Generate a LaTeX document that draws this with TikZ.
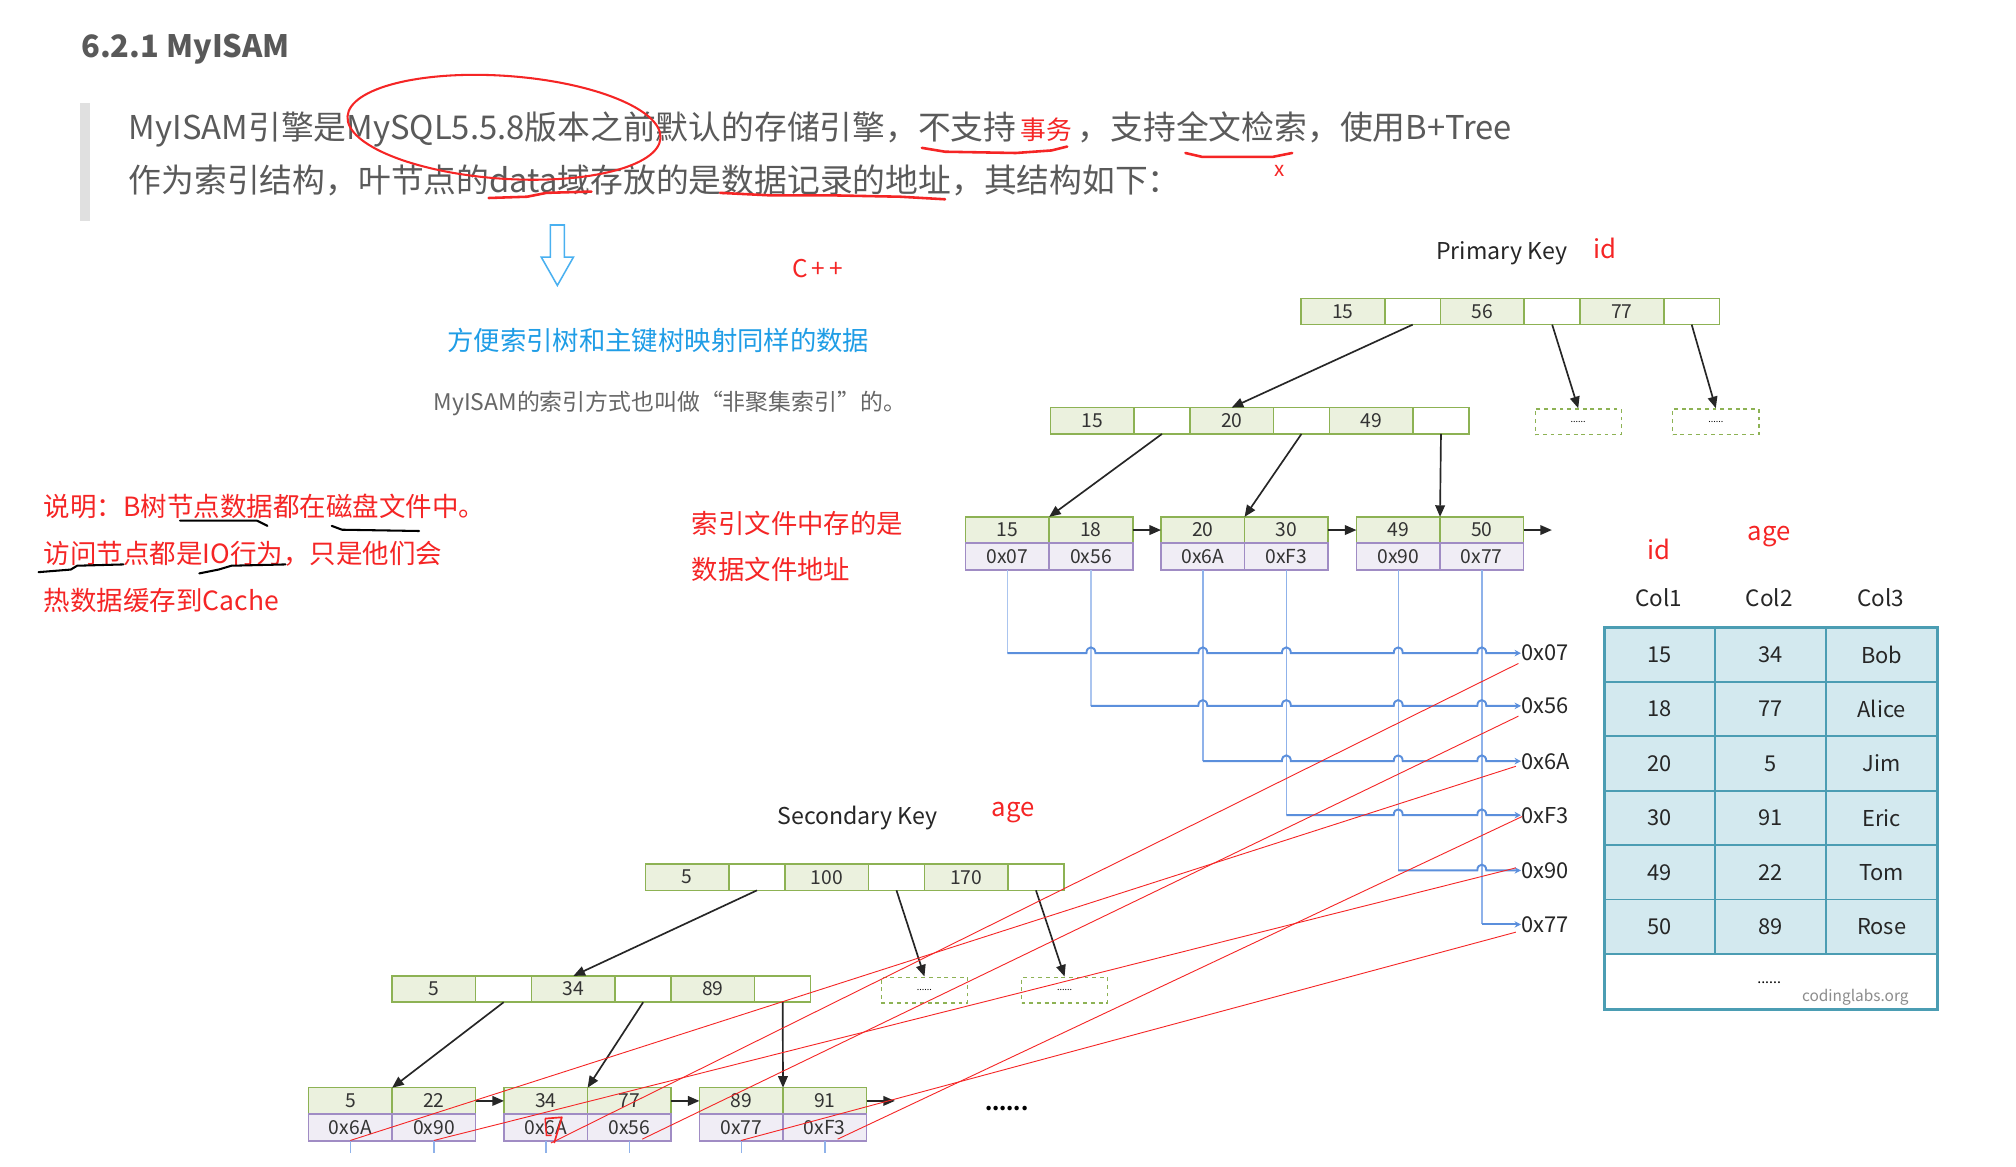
\documentclass[tikz,border=0pt]{standalone}
\usepackage{fontspec}
\setmainfont{Noto Sans CJK SC}
\usetikzlibrary{arrows.meta,calc}
\definecolor{txtgray}{HTML}{5A5A5A}
\definecolor{keyfill}{HTML}{EBF1DE}
\definecolor{keyline}{HTML}{8DB254}
\definecolor{addrfill}{HTML}{F0EDF5}
\definecolor{addrline}{HTML}{A08CC4}
\definecolor{hlblue}{HTML}{5B8FDC}
\definecolor{vlblue}{HTML}{8FB2EA}
\definecolor{tfill}{HTML}{D3E9EF}
\definecolor{tline}{HTML}{4B9DB3}
\definecolor{annred}{HTML}{F52525}
\definecolor{skyblue}{HTML}{1F9DE6}
\definecolor{arrblue}{HTML}{49B0F0}
\newcommand\myfs[1]{\fontsize{#1}{#1}\selectfont}
\tikzset{
  cellbase/.style={inner sep=0pt, outer sep=0pt, minimum height=20.5, text=black!80, font=\myfs{15}, line width=1.2pt},
  keyc/.style={cellbase, draw=keyline, fill=keyfill, minimum width=65},
  ptrc/.style={cellbase, draw=keyline, fill=white, minimum width=43.5},
  addrc/.style={cellbase, draw=addrline, fill=addrfill, minimum width=65, minimum height=21},
  dbox/.style={draw=keyline, dashed, line width=1pt, minimum width=67, minimum height=20, inner sep=0pt, font=\myfs{7}},
  tarr/.style={-{Triangle[length=9pt,width=7.5pt]}, line width=1.3pt, black!85},
  vline/.style={draw=vlblue, line width=1.1pt},
  hline/.style={draw=hlblue, line width=1.5pt, -{Stealth[length=5pt,width=5pt]}},
  alabel/.style={anchor=west, inner sep=0pt, font=\myfs{17}, text=black!85},
  redline/.style={draw=annred, line width=0.7pt},
  tcell/.style={draw=tline, fill=tfill, line width=1.2pt, minimum width=86, minimum height=42.33, inner sep=0pt, outer sep=0pt, font=\myfs{17}, text=black!85},
  hand/.style={line width=2pt, line cap=round, line join=round},
  redtxt/.style={text=annred, inner sep=0pt},
  plain/.style={inner sep=0pt}
}
\newcommand\inode[6]{%
  \node[keyc,anchor=north west] (#1a) at (#2,#3) {#4};
  \node[ptrc,anchor=west] (#1p) at (#1a.east) {};
  \node[keyc,anchor=west] (#1b) at (#1p.east) {#5};
  \node[ptrc,anchor=west] (#1q) at (#1b.east) {};
  \node[keyc,anchor=west] (#1c) at (#1q.east) {#6};
  \node[ptrc,anchor=west] (#1r) at (#1c.east) {};
}
\newcommand\leafn[7]{%
  \node[keyc,anchor=north west] (#1a) at (#2,#3) {#4};
  \node[keyc,anchor=west] (#1b) at (#1a.east) {#5};
  \node[addrc,anchor=north] (#1x) at (#1a.south) {#6};
  \node[addrc,anchor=north] (#1y) at (#1b.south) {#7};
}
\newcommand\trow[5]{%
  \node[tcell] (t#1a) at (1291,#2) {#3};
  \node[tcell] (t#1b) at (1377,#2) {#4};
  \node[tcell,minimum width=87] (t#1c) at (1463.5,#2) {#5};
}
\begin{document}
\begin{tikzpicture}[x=1pt,y=-1pt]
\useasboundingbox (0,0) rectangle (1568,907);
\fill[white] (0,0) rectangle (1568,907);

% ---------- header text ----------
\node[plain,anchor=west,text=black!65,font=\myfs{24}\bfseries] (title) at (63,38) {6.2.1 MyISAM};
\fill[black!12] (62,80) rectangle (70,172);
\node[plain,anchor=west,text=txtgray,font=\myfs{25.5}] (line1) at (100,101)
  {MyISAM引擎是MySQL5.5.8版本之前默认的存储引擎，不支持{\color{annred}\myfs{20}\,事务}\,，支持全文检索，使用B+Tree};
\node[plain,anchor=west,text=txtgray,font=\myfs{25.5}] (line2) at (100,140)
  {作为索引结构，叶节点的data域存放的是数据记录的地址，其结构如下：};

% hand annotations on header
\draw[annred,line width=1.6pt,rotate around={-4:(392,99)}] (392,99) ellipse [x radius=122, y radius=40];
\draw[annred,hand] (717,115) -- (735,118) -- (790,119) -- (818,117) -- (830,114);
\draw[annred,hand] (922,119) -- (935,122) -- (990,122) -- (1005,119);
\node[redtxt,font=\myfs{16}] (xmark) at (995,133) {x};
\draw[annred,hand] (380,154) -- (410,153) -- (425,150) -- (460,149);
\draw[annred,hand] (560,150) -- (600,152) -- (650,152) -- (700,153) -- (735,155);

% hollow arrow
\draw[arrblue,line width=1.2pt,fill=white] (428,175) -- (439,175) -- (439,200) -- (446,200) -- (433.5,222) -- (421,200) -- (428,200) -- cycle;

\node[redtxt,font=\myfs{19}] (cpp) at (636,209) {C\,+\,+};
\node[plain,text=skyblue,font=\myfs{20.5}] (blue1) at (512,265) {方便索引树和主键树映射同样的数据};
\node[plain,text=black!60,font=\myfs{17.8}] (gray1) at (521,314) {MyISAM的索引方式也叫做“非聚集索引”的。};

% left red notes
\node[redtxt,anchor=west,font=\myfs{20.6}] (n1) at (34,394) {说明：B树节点数据都在磁盘文件中。};
\node[redtxt,anchor=west,font=\myfs{20.6}] (n2) at (34,431) {访问节点都是IO行为，只是他们会};
\node[redtxt,anchor=west,font=\myfs{20.6}] (n3) at (34,467) {热数据缓存到Cache};
\draw[black,hand,line width=1.6pt] (140,405) -- (200,405) -- (208,409);
\draw[black,hand,line width=1.6pt] (258,409) -- (266,412) -- (326,413);
\draw[black,hand,line width=1.6pt] (30,445) -- (55,443) -- (60,440) -- (96,439);
\draw[black,hand,line width=1.6pt] (155,446) -- (170,443) -- (180,440) -- (222,439);

\node[redtxt,anchor=west,font=\myfs{20.5}] (n4) at (538,407) {索引文件中存的是};
\node[redtxt,anchor=west,font=\myfs{20.5}] (n5) at (538,443) {数据文件地址};

% ---------- primary key tree ----------
\node[plain,font=\myfs{18},text=black!85] (pklabel) at (1168,197) {Primary Key};
\node[redtxt,font=\myfs{20}] (pkid) at (1248,193) {id};
\inode{pr}{1012}{232}{15}{56}{77}
\inode{pm}{817}{317}{15}{20}{49}
\node[dbox] (pd1) at (1227.5,328) {......};
\node[dbox] (pd2) at (1334.5,328) {......};
\leafn{pla}{751}{402}{15}{18}{0x07}{0x56}
\leafn{plb}{903}{402}{20}{30}{0x6A}{0xF3}
\leafn{plc}{1055}{402}{49}{50}{0x90}{0x77}
\draw[tarr] (prp.south) -- (pmb.north);
\draw[tarr] (prq.south) -- (pd1.north);
\draw[tarr] (prr.south) -- (pd2.north);
\draw[tarr] (pmp.south) -- (plaa.north east);
\draw[tarr] (pmq.south) -- (plba.north east);
\draw[tarr] (pmr.south) -- (plca.north east);
\draw[tarr] (plab.east) -- (plba.west);
\draw[tarr] (plbb.east) -- (plca.west);
\coordinate (pend) at ($(plcb.east)+(22,0)$);
\draw[tarr] (plcb.east) -- (pend);

% address labels
\node[alabel] (L07) at (1183,508) {0x07};
\node[alabel] (L56) at (1183,549) {0x56};
\node[alabel] (L6A) at (1183,592) {0x6A};
\node[alabel] (LF3) at (1183,634) {0xF3};
\node[alabel] (L90) at (1183,677) {0x90};
\node[alabel] (L77) at (1183,719) {0x77};

% vertical blue lines
\draw[vline,draw=vlblue!75] (plax.south) -- (plax.south |- L07.west);
\draw[vline,draw=vlblue!75] (play.south) -- (play.south |- L56.west);
\draw[vline] (plbx.south) -- (plbx.south |- L6A.west);
\draw[vline] (plby.south) -- (plby.south |- LF3.west);
\draw[vline] (plcx.south) -- (plcx.south |- L90.west);
\draw[vline] (plcy.south) -- (plcy.south |- L77.west);
% horizontal blue lines with hops
\draw[hline] (plax.south |- L07.west) \foreach \h in {848.5,935.5,1000.5,1087.5,1152.5} {-- (\h-3.5,508) .. controls (\h-3.5,502) and (\h+3.5,502) .. (\h+3.5,508)} -- (L07.west);
\draw[hline] (play.south |- L56.west) \foreach \h in {935.5,1000.5,1087.5,1152.5} {-- (\h-3.5,549) .. controls (\h-3.5,543) and (\h+3.5,543) .. (\h+3.5,549)} -- (L56.west);
\draw[hline] (plbx.south |- L6A.west) \foreach \h in {1000.5,1087.5,1152.5} {-- (\h-3.5,592) .. controls (\h-3.5,586) and (\h+3.5,586) .. (\h+3.5,592)} -- (L6A.west);
\draw[hline] (plby.south |- LF3.west) \foreach \h in {1087.5,1152.5} {-- (\h-3.5,634) .. controls (\h-3.5,628) and (\h+3.5,628) .. (\h+3.5,634)} -- (LF3.west);
\draw[hline] (plcx.south |- L90.west) \foreach \h in {1152.5} {-- (\h-3.5,677) .. controls (\h-3.5,671) and (\h+3.5,671) .. (\h+3.5,677)} -- (L90.west);
\draw[hline] (plcy.south |- L77.west) -- (L77.west);

% ---------- data table ----------
\node[redtxt,font=\myfs{20}] (tid) at (1290,427) {id};
\node[redtxt,font=\myfs{20}] (tage) at (1376,417) {age};
\node[plain,font=\myfs{17.5},text=black!85] (c1) at (1290,465) {Col1};
\node[plain,font=\myfs{17.5},text=black!85] (c2) at (1376,465) {Col2};
\node[plain,font=\myfs{17.5},text=black!85] (c3) at (1463,465) {Col3};
\trow{1}{509.2}{15}{34}{Bob}
\trow{2}{551.5}{18}{77}{Alice}
\trow{3}{593.8}{20}{5}{Jim}
\trow{4}{636.2}{30}{91}{Eric}
\trow{5}{678.5}{49}{22}{Tom}
\trow{6}{720.8}{50}{89}{Rose}
\node[draw=tline,fill=white,line width=1.2pt,minimum width=259,minimum height=43,inner sep=0pt,outer sep=0pt,anchor=north west] (tbot) at (1248,742) {};
\node[plain,font=\myfs{11}] (tdots) at (1376,764) {......};
\node[plain,font=\myfs{12},text=black!45] (clabs) at (1443,776) {codinglabs.org};
\draw[tline,line width=2pt] (t1a.north west) rectangle (tbot.south east);

% ---------- secondary key tree ----------
\node[plain,font=\myfs{18},text=black!85] (sklabel) at (667,636) {Secondary Key};
\node[redtxt,font=\myfs{20}] (skage) at (788,632) {age};
\inode{sr}{502}{672}{5}{100}{170}
\inode{sm}{305}{759}{5}{34}{89}
\node[dbox] (sd1) at (719,770) {......};
\node[dbox] (sd2) at (828,770) {......};
\leafn{sla}{240}{846}{5}{22}{0x6A}{0x90}
\leafn{slb}{392}{846}{34}{77}{0x6A}{0x56}
\leafn{slc}{544}{846}{89}{91}{0x77}{0xF3}
\draw[tarr] (srp.south) -- (smb.north);
\draw[tarr] (srq.south) -- (sd1.north);
\draw[tarr] (srr.south) -- (sd2.north);
\draw[tarr] (smp.south) -- (slaa.north east);
\draw[tarr] (smq.south) -- (slba.north east);
\draw[tarr] (smr.south) -- (slca.north east);
\draw[tarr] (slab.east) -- (slba.west);
\draw[tarr] (slbb.east) -- (slca.west);
\coordinate (send) at ($(slcb.east)+(22,0)$);
\draw[tarr] (slcb.east) -- (send);
\node[plain,font=\myfs{16}\bfseries] (sdots) at (783,862) {......};
% small blue ticks under secondary leaves
\foreach \n in {slax,slay,slbx,slby,slcx,slcy} {\draw[vline] (\n.south) -- ++(0,9);}
% red hand "7"
\draw[annred,line width=1.3pt,line join=round] (424,870) -- (437,869) -- (431,889);
\draw[annred,line width=1.1pt] (424,870) -- (425,883) -- (429,883);

% ---------- red mapping lines ----------
\draw[redline] ($(slax.center)+(0,10)$) -- ($(L6A.west)+(-4,4)$);
\draw[redline] ($(slay.center)+(0,10)$) -- ($(L90.west)+(-4,-2)$);
\draw[redline] ($(slbx.center)+(4,12)$) -- ($(L07.west)+(-2,8)$);
\draw[redline] ($(slby.center)+(10,9)$) -- ($(L56.west)+(-2,8)$);
\draw[redline] ($(slcx.center)+(0,10)$) -- ($(L77.west)+(-4,6)$);
\draw[redline] ($(slcy.center)+(10,9)$) -- ($(LF3.west)+(1,1)$);
\end{tikzpicture}
\end{document}
